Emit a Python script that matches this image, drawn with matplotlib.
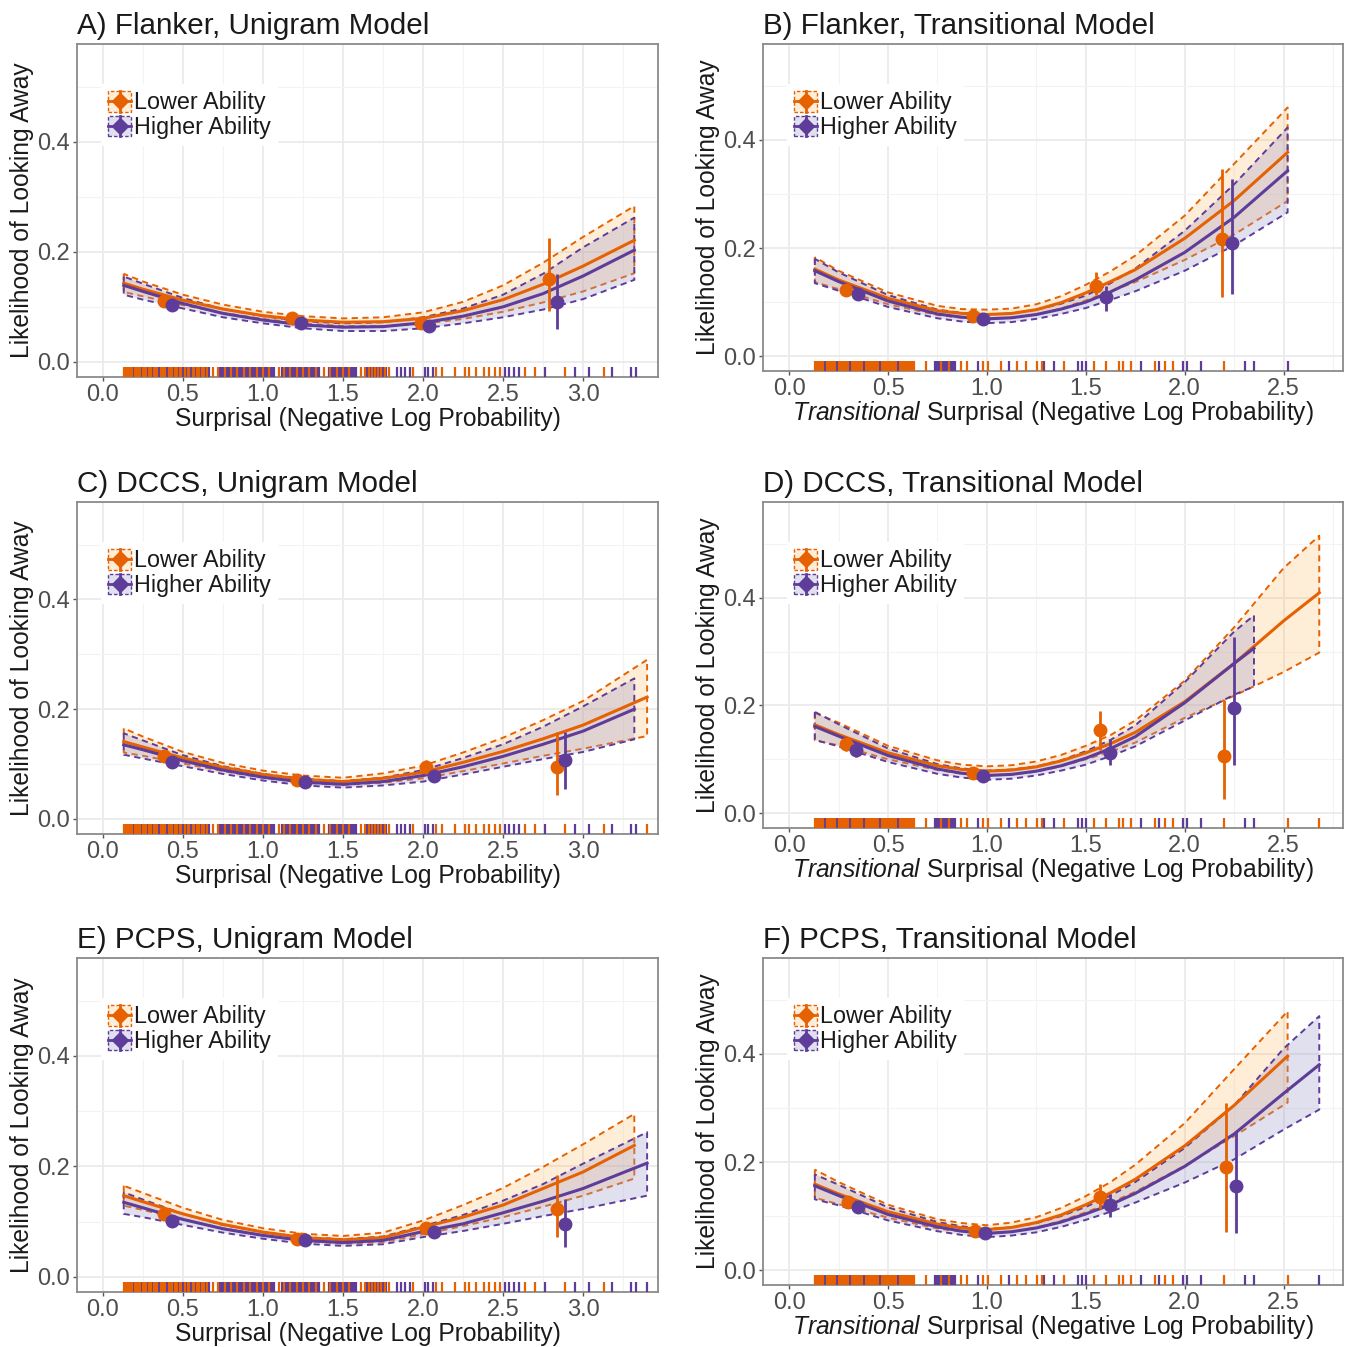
import numpy as np
import matplotlib
matplotlib.use('Agg')
import matplotlib.pyplot as plt
from matplotlib.patches import Rectangle
from matplotlib.lines import Line2D
from matplotlib.legend_handler import HandlerBase
from matplotlib.transforms import blended_transform_factory
from matplotlib.ticker import MultipleLocator, FormatStrFormatter
from matplotlib.colors import to_rgba

plt.rcParams['font.family'] = ['Liberation Sans', 'DejaVu Sans']
plt.rcParams['mathtext.fontset'] = 'custom'
plt.rcParams['mathtext.rm'] = 'Liberation Sans'
plt.rcParams['mathtext.it'] = 'Liberation Sans:italic'

# ---------------- data ----------------
GROUPS = ['Lower Ability', 'Higher Ability']
TITLES = ['A) Flanker, Unigram Model', 'B) Flanker, Transitional Model',
          'C) DCCS, Unigram Model', 'D) DCCS, Transitional Model',
          'E) PCPS, Unigram Model', 'F) PCPS, Transitional Model']
XLABEL_UNI = 'Surprisal (Negative Log Probability)'
XLABEL_TR = r'$\mathit{Transitional}$ Surprisal (Negative Log Probability)'
YLABEL = 'Likelihood of Looking Away'

UNI_X = [0.13, 0.25, 0.5, 0.75, 1.0, 1.25, 1.5, 1.75, 2.0, 2.25, 2.5, 2.75, 3.0, 3.32]
UNI_X_LONG = [0.13, 0.25, 0.5, 0.75, 1.0, 1.25, 1.5, 1.75, 2.0, 2.25, 2.5, 2.75, 3.0, 3.40]
TR_X = [0.13, 0.25, 0.5, 0.75, 0.875, 1.0, 1.125, 1.25, 1.375, 1.5, 1.625, 1.75, 2.0, 2.25, 2.52]
TR_X_LONG = [0.13, 0.25, 0.5, 0.75, 0.875, 1.0, 1.125, 1.25, 1.375, 1.5, 1.625, 1.75, 2.0, 2.25, 2.5, 2.68]
TR_X_SHORT = [0.13, 0.25, 0.5, 0.75, 0.875, 1.0, 1.125, 1.25, 1.375, 1.5, 1.625, 1.75, 2.0, 2.25, 2.35]

# Panel A
A_LOW_FIT = [0.143, 0.132, 0.112, 0.096, 0.084, 0.076, 0.072, 0.073, 0.079, 0.093, 0.113, 0.141, 0.174, 0.221]
A_LOW_LO = [0.127, 0.119, 0.103, 0.089, 0.078, 0.070, 0.065, 0.065, 0.069, 0.078, 0.091, 0.108, 0.128, 0.161]
A_LOW_HI = [0.160, 0.146, 0.122, 0.104, 0.091, 0.083, 0.079, 0.081, 0.090, 0.109, 0.139, 0.180, 0.227, 0.283]
A_HIGH_FIT = [0.139, 0.128, 0.106, 0.088, 0.076, 0.067, 0.063, 0.064, 0.071, 0.083, 0.100, 0.124, 0.156, 0.203]
A_HIGH_LO = [0.122, 0.113, 0.097, 0.081, 0.070, 0.061, 0.056, 0.056, 0.061, 0.070, 0.081, 0.095, 0.114, 0.149]
A_HIGH_HI = [0.155, 0.142, 0.116, 0.096, 0.083, 0.074, 0.070, 0.072, 0.081, 0.097, 0.122, 0.160, 0.208, 0.262]
A_LOW_PX = [0.38, 1.18, 1.99, 2.79]
A_LOW_PY = [0.111, 0.079, 0.071, 0.151]
A_LOW_PLO = [0.104, 0.074, 0.065, 0.092]
A_LOW_PHI = [0.118, 0.084, 0.078, 0.225]
A_HIGH_PX = [0.43, 1.24, 2.04, 2.84]
A_HIGH_PY = [0.104, 0.070, 0.066, 0.109]
A_HIGH_PLO = [0.097, 0.065, 0.060, 0.059]
A_HIGH_PHI = [0.111, 0.075, 0.073, 0.159]

# Panel B
B_LOW_FIT = [0.161, 0.141, 0.107, 0.084, 0.079, 0.077, 0.079, 0.086, 0.099, 0.117, 0.138, 0.160, 0.218, 0.288, 0.377]
B_LOW_LO = [0.137, 0.124, 0.096, 0.076, 0.071, 0.069, 0.071, 0.077, 0.088, 0.103, 0.120, 0.137, 0.178, 0.225, 0.287]
B_LOW_HI = [0.183, 0.158, 0.118, 0.093, 0.087, 0.086, 0.088, 0.096, 0.111, 0.132, 0.157, 0.186, 0.260, 0.356, 0.460]
B_HIGH_FIT = [0.158, 0.138, 0.102, 0.078, 0.072, 0.069, 0.071, 0.077, 0.087, 0.100, 0.119, 0.141, 0.192, 0.257, 0.343]
B_HIGH_LO = [0.135, 0.121, 0.091, 0.070, 0.064, 0.061, 0.063, 0.069, 0.078, 0.089, 0.104, 0.120, 0.158, 0.205, 0.266]
B_HIGH_HI = [0.180, 0.155, 0.113, 0.086, 0.080, 0.077, 0.079, 0.086, 0.097, 0.112, 0.135, 0.162, 0.232, 0.318, 0.423]
B_LOW_PX = [0.29, 0.93, 1.55, 2.19]
B_LOW_PY = [0.123, 0.075, 0.130, 0.217]
B_LOW_PLO = [0.112, 0.069, 0.114, 0.109]
B_LOW_PHI = [0.134, 0.081, 0.155, 0.346]
B_HIGH_PX = [0.35, 0.98, 1.60, 2.24]
B_HIGH_PY = [0.115, 0.069, 0.110, 0.210]
B_HIGH_PLO = [0.104, 0.063, 0.084, 0.115]
B_HIGH_PHI = [0.126, 0.076, 0.130, 0.327]

# Panel C
C_LOW_FIT = [0.141, 0.131, 0.111, 0.094, 0.081, 0.072, 0.068, 0.074, 0.085, 0.103, 0.123, 0.146, 0.171, 0.222]
C_LOW_LO = [0.121, 0.115, 0.101, 0.087, 0.075, 0.066, 0.062, 0.066, 0.074, 0.087, 0.101, 0.115, 0.128, 0.151]
C_LOW_HI = [0.165, 0.150, 0.122, 0.102, 0.088, 0.079, 0.075, 0.083, 0.097, 0.121, 0.148, 0.180, 0.215, 0.290]
C_HIGH_FIT = [0.135, 0.126, 0.106, 0.089, 0.076, 0.067, 0.063, 0.068, 0.079, 0.095, 0.114, 0.136, 0.160, 0.200]
C_HIGH_LO = [0.117, 0.110, 0.096, 0.082, 0.070, 0.061, 0.057, 0.061, 0.068, 0.081, 0.095, 0.109, 0.122, 0.145]
C_HIGH_HI = [0.156, 0.143, 0.116, 0.096, 0.082, 0.073, 0.069, 0.075, 0.089, 0.111, 0.136, 0.168, 0.205, 0.256]
C_LOW_PX = [0.38, 1.21, 2.02, 2.84]
C_LOW_PY = [0.114, 0.071, 0.094, 0.094]
C_LOW_PLO = [0.105, 0.065, 0.083, 0.044]
C_LOW_PHI = [0.122, 0.077, 0.107, 0.159]
C_HIGH_PX = [0.43, 1.26, 2.07, 2.89]
C_HIGH_PY = [0.103, 0.067, 0.078, 0.108]
C_HIGH_PLO = [0.095, 0.061, 0.070, 0.055]
C_HIGH_PHI = [0.112, 0.073, 0.087, 0.159]

# Panel D
D_LOW_FIT = [0.164, 0.146, 0.112, 0.088, 0.081, 0.078, 0.080, 0.086, 0.097, 0.112, 0.129, 0.150, 0.207, 0.278, 0.357, 0.409]
D_LOW_LO = [0.135, 0.126, 0.100, 0.080, 0.073, 0.070, 0.072, 0.077, 0.087, 0.100, 0.114, 0.131, 0.177, 0.218, 0.262, 0.298]
D_LOW_HI = [0.186, 0.168, 0.125, 0.098, 0.090, 0.087, 0.089, 0.096, 0.108, 0.125, 0.145, 0.172, 0.246, 0.345, 0.455, 0.515]
D_HIGH_FIT = [0.161, 0.143, 0.107, 0.082, 0.074, 0.070, 0.072, 0.078, 0.088, 0.102, 0.120, 0.142, 0.205, 0.278, 0.306]
D_HIGH_LO = [0.136, 0.124, 0.095, 0.073, 0.066, 0.062, 0.064, 0.070, 0.079, 0.090, 0.106, 0.124, 0.172, 0.220, 0.235]
D_HIGH_HI = [0.188, 0.165, 0.120, 0.091, 0.083, 0.079, 0.081, 0.087, 0.098, 0.115, 0.136, 0.163, 0.243, 0.337, 0.367]
D_LOW_PX = [0.29, 0.93, 1.57, 2.20]
D_LOW_PY = [0.128, 0.074, 0.155, 0.106]
D_LOW_PLO = [0.115, 0.068, 0.118, 0.026]
D_LOW_PHI = [0.140, 0.080, 0.189, 0.210]
D_HIGH_PX = [0.34, 0.98, 1.62, 2.25]
D_HIGH_PY = [0.117, 0.069, 0.112, 0.196]
D_HIGH_PLO = [0.105, 0.063, 0.090, 0.089]
D_HIGH_PHI = [0.130, 0.076, 0.137, 0.327]

# Panel E
E_LOW_FIT = [0.147, 0.136, 0.114, 0.095, 0.081, 0.071, 0.067, 0.071, 0.090, 0.108, 0.130, 0.160, 0.190, 0.238]
E_LOW_LO = [0.129, 0.121, 0.104, 0.088, 0.075, 0.065, 0.060, 0.063, 0.077, 0.092, 0.108, 0.127, 0.147, 0.178]
E_LOW_HI = [0.165, 0.152, 0.125, 0.103, 0.088, 0.078, 0.074, 0.080, 0.102, 0.130, 0.161, 0.199, 0.240, 0.295]
E_HIGH_FIT = [0.135, 0.125, 0.104, 0.087, 0.075, 0.066, 0.062, 0.066, 0.082, 0.096, 0.116, 0.137, 0.160, 0.206]
E_HIGH_LO = [0.114, 0.108, 0.094, 0.080, 0.069, 0.060, 0.056, 0.059, 0.072, 0.083, 0.096, 0.110, 0.123, 0.147]
E_HIGH_HI = [0.153, 0.140, 0.114, 0.094, 0.081, 0.072, 0.068, 0.073, 0.092, 0.112, 0.138, 0.168, 0.205, 0.262]
E_LOW_PX = [0.38, 1.21, 2.02, 2.84]
E_LOW_PY = [0.113, 0.069, 0.089, 0.122]
E_LOW_PLO = [0.105, 0.064, 0.080, 0.072]
E_LOW_PHI = [0.121, 0.074, 0.098, 0.185]
E_HIGH_PX = [0.43, 1.26, 2.07, 2.89]
E_HIGH_PY = [0.101, 0.066, 0.082, 0.096]
E_HIGH_PLO = [0.094, 0.061, 0.074, 0.054]
E_HIGH_PHI = [0.108, 0.071, 0.090, 0.141]

# Panel F
F_LOW_FIT = [0.159, 0.141, 0.108, 0.085, 0.078, 0.075, 0.079, 0.088, 0.102, 0.121, 0.143, 0.168, 0.230, 0.305, 0.396]
F_LOW_LO = [0.134, 0.122, 0.097, 0.077, 0.071, 0.068, 0.071, 0.079, 0.091, 0.107, 0.125, 0.145, 0.193, 0.248, 0.310]
F_LOW_HI = [0.186, 0.163, 0.121, 0.094, 0.087, 0.083, 0.088, 0.098, 0.115, 0.137, 0.163, 0.195, 0.272, 0.372, 0.479]
F_HIGH_FIT = [0.156, 0.138, 0.103, 0.080, 0.072, 0.068, 0.071, 0.078, 0.089, 0.104, 0.121, 0.142, 0.192, 0.252, 0.327, 0.380]
F_HIGH_LO = [0.131, 0.120, 0.092, 0.072, 0.065, 0.061, 0.064, 0.070, 0.080, 0.093, 0.108, 0.125, 0.162, 0.205, 0.260, 0.297]
F_HIGH_HI = [0.177, 0.158, 0.116, 0.089, 0.081, 0.076, 0.079, 0.087, 0.100, 0.117, 0.138, 0.163, 0.226, 0.305, 0.410, 0.470]
F_LOW_PX = [0.30, 0.94, 1.57, 2.21]
F_LOW_PY = [0.126, 0.073, 0.135, 0.190]
F_LOW_PLO = [0.115, 0.067, 0.113, 0.070]
F_LOW_PHI = [0.138, 0.079, 0.160, 0.310]
F_HIGH_PX = [0.35, 0.99, 1.62, 2.26]
F_HIGH_PY = [0.117, 0.068, 0.120, 0.156]
F_HIGH_PLO = [0.105, 0.062, 0.098, 0.068]
F_HIGH_PHI = [0.128, 0.074, 0.141, 0.258]

# Rug (word surprisal values)
UNI_RUG_HIGH = [0.19, 0.24, 0.28, 0.31, 0.35, 0.40, 0.44, 0.47, 0.50, 0.52, 0.55, 0.58, 0.61, 0.64, 0.66,
                0.73, 0.74, 0.75, 0.77, 0.78, 0.79, 0.81, 0.82, 0.83, 0.85, 0.86, 0.87, 0.89, 0.90, 0.91,
                0.93, 0.94, 0.95, 0.97, 0.98, 0.99, 1.01, 1.02, 1.03, 1.05, 1.06, 1.07,
                1.12, 1.14, 1.15, 1.16, 1.18, 1.19, 1.20, 1.22, 1.23, 1.24, 1.26, 1.27, 1.28, 1.30, 1.31,
                1.32, 1.34, 1.35, 1.41, 1.43, 1.44, 1.45, 1.47, 1.48, 1.49, 1.51, 1.52, 1.53, 1.55, 1.56,
                1.57, 1.58, 1.65, 1.67, 1.69, 1.71, 1.73, 1.75, 1.77, 1.84, 1.86, 1.89, 1.92, 2.01, 2.03,
                2.06, 2.51, 2.54, 2.57, 2.60, 2.76, 2.95, 3.04, 3.18, 3.30, 3.33]
UNI_RUG_LOW = [0.13, 0.14, 0.15, 0.16, 0.17, 0.18, 0.20, 0.21, 0.22, 0.23, 0.25, 0.26, 0.27, 0.29, 0.30, 0.32,
               0.33, 0.34, 0.36, 0.37, 0.38, 0.39, 0.41, 0.42, 0.43, 0.45, 0.46, 0.48, 0.49, 0.51, 0.53, 0.54,
               0.56, 0.57, 0.59, 0.60, 0.62, 0.63, 0.65, 0.69, 0.72, 0.76, 0.80, 0.84, 0.88, 0.92, 0.96,
               1.00, 1.04, 1.10, 1.13, 1.17, 1.21, 1.25, 1.29, 1.33, 1.38, 1.42, 1.46, 1.50, 1.54, 1.61,
               1.64, 1.66, 1.68, 1.70, 1.72, 1.74, 1.76, 1.79, 1.94, 2.08, 2.12, 2.20, 2.26, 2.29, 2.33,
               2.38, 2.41, 2.45, 2.48, 2.64, 2.70, 2.89, 3.13]
TR_RUG_HIGH = [0.18, 0.24, 0.31, 0.38, 0.46, 0.55, 0.74, 0.75, 0.76, 0.78, 0.79, 0.80, 0.82, 0.83, 0.84,
               0.955, 1.11, 1.29, 1.34, 1.46, 1.48, 1.50, 1.78, 1.87, 1.99, 2.01, 2.08, 2.305, 2.35]
TR_RUG_LOW = [0.13, 0.14, 0.15, 0.16, 0.17, 0.19, 0.20, 0.21, 0.22, 0.23, 0.25, 0.26, 0.27, 0.28, 0.29, 0.30,
              0.32, 0.33, 0.34, 0.35, 0.36, 0.37, 0.39, 0.40, 0.41, 0.42, 0.43, 0.44, 0.45, 0.47, 0.48, 0.49,
              0.50, 0.51, 0.52, 0.53, 0.54, 0.56, 0.57, 0.58, 0.59, 0.60, 0.61, 0.62, 0.63, 0.69, 0.77, 0.81,
              0.87, 0.90, 0.98, 1.006, 1.07, 1.15, 1.20, 1.255, 1.28, 1.39, 1.54, 1.60, 1.67, 1.69, 1.73,
              1.85, 1.90, 1.94, 2.20]
A_RUG_LOW_EXTRA, A_RUG_HIGH_EXTRA = [], []
B_RUG_LOW_EXTRA, B_RUG_HIGH_EXTRA = [], [2.52]
C_RUG_LOW_EXTRA, C_RUG_HIGH_EXTRA = [3.40], []
D_RUG_LOW_EXTRA, D_RUG_HIGH_EXTRA = [2.52, 2.68], []
E_RUG_LOW_EXTRA, E_RUG_HIGH_EXTRA = [], [3.40]
F_RUG_LOW_EXTRA, F_RUG_HIGH_EXTRA = [2.52], [2.68]

# ---------------- style ----------------
COL_LOW, COL_HIGH = '#E66101', '#5E3C99'
FILL_LOW = to_rgba('#FDB863', 0.25)
FILL_HIGH = to_rgba('#9E9AC8', 0.30)
UNI_XLIM = (-0.162, 3.468)
TR_XLIM = (-0.132, 2.80)
YLIM = (-0.0275, 0.5775)
W, H = 1352, 1347

def fx(p):
    return p / W

def fy(p):
    return 1 - p / H

# axes boxes in pixels: left, right, top, bottom
BOXES = [(77, 658, 44, 377), (763, 1343, 44, 371),
         (77, 658, 502, 834), (763, 1343, 502, 828),
         (77, 658, 958, 1292), (763, 1343, 958, 1285)]

panels = [
    dict(kind='uni', low=(UNI_X, A_LOW_FIT, A_LOW_LO, A_LOW_HI), high=(UNI_X, A_HIGH_FIT, A_HIGH_LO, A_HIGH_HI),
         lowp=(A_LOW_PX, A_LOW_PY, A_LOW_PLO, A_LOW_PHI), highp=(A_HIGH_PX, A_HIGH_PY, A_HIGH_PLO, A_HIGH_PHI),
         rl=UNI_RUG_LOW + A_RUG_LOW_EXTRA, rh=UNI_RUG_HIGH + A_RUG_HIGH_EXTRA),
    dict(kind='tr', low=(TR_X, B_LOW_FIT, B_LOW_LO, B_LOW_HI), high=(TR_X, B_HIGH_FIT, B_HIGH_LO, B_HIGH_HI),
         lowp=(B_LOW_PX, B_LOW_PY, B_LOW_PLO, B_LOW_PHI), highp=(B_HIGH_PX, B_HIGH_PY, B_HIGH_PLO, B_HIGH_PHI),
         rl=TR_RUG_LOW + B_RUG_LOW_EXTRA, rh=TR_RUG_HIGH + B_RUG_HIGH_EXTRA),
    dict(kind='uni', low=(UNI_X_LONG, C_LOW_FIT, C_LOW_LO, C_LOW_HI), high=(UNI_X, C_HIGH_FIT, C_HIGH_LO, C_HIGH_HI),
         lowp=(C_LOW_PX, C_LOW_PY, C_LOW_PLO, C_LOW_PHI), highp=(C_HIGH_PX, C_HIGH_PY, C_HIGH_PLO, C_HIGH_PHI),
         rl=UNI_RUG_LOW + C_RUG_LOW_EXTRA, rh=UNI_RUG_HIGH + C_RUG_HIGH_EXTRA),
    dict(kind='tr', low=(TR_X_LONG, D_LOW_FIT, D_LOW_LO, D_LOW_HI), high=(TR_X_SHORT, D_HIGH_FIT, D_HIGH_LO, D_HIGH_HI),
         lowp=(D_LOW_PX, D_LOW_PY, D_LOW_PLO, D_LOW_PHI), highp=(D_HIGH_PX, D_HIGH_PY, D_HIGH_PLO, D_HIGH_PHI),
         rl=TR_RUG_LOW + D_RUG_LOW_EXTRA, rh=TR_RUG_HIGH + D_RUG_HIGH_EXTRA),
    dict(kind='uni', low=(UNI_X, E_LOW_FIT, E_LOW_LO, E_LOW_HI), high=(UNI_X_LONG, E_HIGH_FIT, E_HIGH_LO, E_HIGH_HI),
         lowp=(E_LOW_PX, E_LOW_PY, E_LOW_PLO, E_LOW_PHI), highp=(E_HIGH_PX, E_HIGH_PY, E_HIGH_PLO, E_HIGH_PHI),
         rl=UNI_RUG_LOW + E_RUG_LOW_EXTRA, rh=UNI_RUG_HIGH + E_RUG_HIGH_EXTRA),
    dict(kind='tr', low=(TR_X, F_LOW_FIT, F_LOW_LO, F_LOW_HI), high=(TR_X_LONG, F_HIGH_FIT, F_HIGH_LO, F_HIGH_HI),
         lowp=(F_LOW_PX, F_LOW_PY, F_LOW_PLO, F_LOW_PHI), highp=(F_HIGH_PX, F_HIGH_PY, F_HIGH_PLO, F_HIGH_PHI),
         rl=TR_RUG_LOW + F_RUG_LOW_EXTRA, rh=TR_RUG_HIGH + F_RUG_HIGH_EXTRA),
]


class KeyHandler(HandlerBase):
    def __init__(self, color, fill):
        super().__init__()
        self.color = color
        self.fill = fill

    def create_artists(self, legend, orig_handle, xdescent, ydescent, width, height, fontsize, trans):
        x0, y0 = -xdescent, -ydescent
        r = Rectangle((x0, y0), width, height, facecolor=self.fill, edgecolor=self.color,
                      linestyle=(0, (2.5, 1.5)), linewidth=1.0, transform=trans)
        cx, cy = x0 + width / 2, y0 + height / 2
        hl = Line2D([x0, x0 + width], [cy, cy], color=self.color, lw=2.0, transform=trans)
        vl = Line2D([cx, cx], [y0, y0 + height], color=self.color, lw=2.0, transform=trans)
        pt = Line2D([cx], [cy], marker='D', ms=8, color=self.color, mec=self.color, transform=trans)
        return [r, hl, vl, pt]


fig = plt.figure(figsize=(W / 100, H / 100), dpi=100)
FS_TITLE, FS_AXIS, FS_TICK, FS_LEG = 21.3, 17.7, 17, 16.8

for i, p in enumerate(panels):
    l, r, t, b = BOXES[i]
    ax = fig.add_axes([fx(l), fy(b), (r - l) / W, (b - t) / H])
    ax.set_xlim(UNI_XLIM if p['kind'] == 'uni' else TR_XLIM)
    ax.set_ylim(YLIM)
    ax.xaxis.set_major_locator(MultipleLocator(0.5))
    ax.xaxis.set_minor_locator(MultipleLocator(0.25))
    ax.yaxis.set_major_locator(MultipleLocator(0.2))
    ax.yaxis.set_minor_locator(MultipleLocator(0.1))
    ax.xaxis.set_major_formatter(FormatStrFormatter('%.1f'))
    ax.yaxis.set_major_formatter(FormatStrFormatter('%.1f'))
    ax.grid(which='major', color='#EBEBEB', lw=1.3)
    ax.grid(which='minor', color='#F3F3F3', lw=0.8)
    ax.set_axisbelow(True)
    ax.tick_params(which='minor', length=0)
    ax.tick_params(which='major', length=3, width=1, color='#555555', labelsize=FS_TICK,
                   labelcolor='#4D4D4D', pad=2)
    for s in ax.spines.values():
        s.set_color('#8A8A8A')
        s.set_linewidth(1.3)

    # ribbons
    for (x, fit, lo, hi), col, fill in ((p['low'], COL_LOW, FILL_LOW), (p['high'], COL_HIGH, FILL_HIGH)):
        ax.fill_between(x, lo, hi, facecolor=fill, edgecolor=col, linestyle=(0, (3.2, 2.3)),
                        linewidth=1.4, zorder=2)
    # fitted lines
    for (x, fit, lo, hi), col in ((p['low'], COL_LOW), (p['high'], COL_HIGH)):
        ax.plot(x, fit, color=col, lw=2.2, zorder=3, solid_joinstyle='round')
    # binned points
    for (px_, py_, plo, phi), col in ((p['lowp'], COL_LOW), (p['highp'], COL_HIGH)):
        py_a = np.array(py_)
        yerr = [py_a - np.array(plo), np.array(phi) - py_a]
        ax.errorbar(px_, py_, yerr=yerr, fmt='o', color=col, ms=9, elinewidth=2.0, capsize=0, zorder=4)
    # rug
    tr = blended_transform_factory(ax.transData, ax.transAxes)
    ax.vlines(p['rh'], 0, 0.03, transform=tr, colors=COL_HIGH, lw=1.6, zorder=5)
    ax.vlines(p['rl'], 0, 0.03, transform=tr, colors=COL_LOW, lw=1.6, zorder=5)

    # legend
    h1, h2 = Line2D([], []), Line2D([], [])
    leg = ax.legend([h1, h2], GROUPS, loc='upper left',
                    bbox_to_anchor=(fx(l + 24), fy(t + 40)), bbox_transform=fig.transFigure,
                    handler_map={h1: KeyHandler(COL_LOW, FILL_LOW), h2: KeyHandler(COL_HIGH, FILL_HIGH)},
                    fontsize=FS_LEG, frameon=True, fancybox=False, framealpha=1, facecolor='white',
                    edgecolor='none', borderpad=0.3, handlelength=1.0, handleheight=1.0,
                    handletextpad=0.1, labelspacing=0.05, borderaxespad=0)
    for txt in leg.get_texts():
        txt.set_color('#1A1A1A')

    # texts
    fig.text(fx(l), fy(t - 10), TITLES[i], ha='left', va='baseline', fontsize=FS_TITLE, color='#1A1A1A')
    fig.text(fx(l - 55), fy((t + b) / 2), YLABEL, rotation=90, ha='center', va='center',
             fontsize=FS_AXIS, color='#1A1A1A')
    fig.text(fx((l + r) / 2), fy(b + 42), XLABEL_UNI if p['kind'] == 'uni' else XLABEL_TR,
             ha='center', va='center', fontsize=FS_AXIS, color='#1A1A1A')

fig.savefig('out.png', dpi=100, facecolor='white')
